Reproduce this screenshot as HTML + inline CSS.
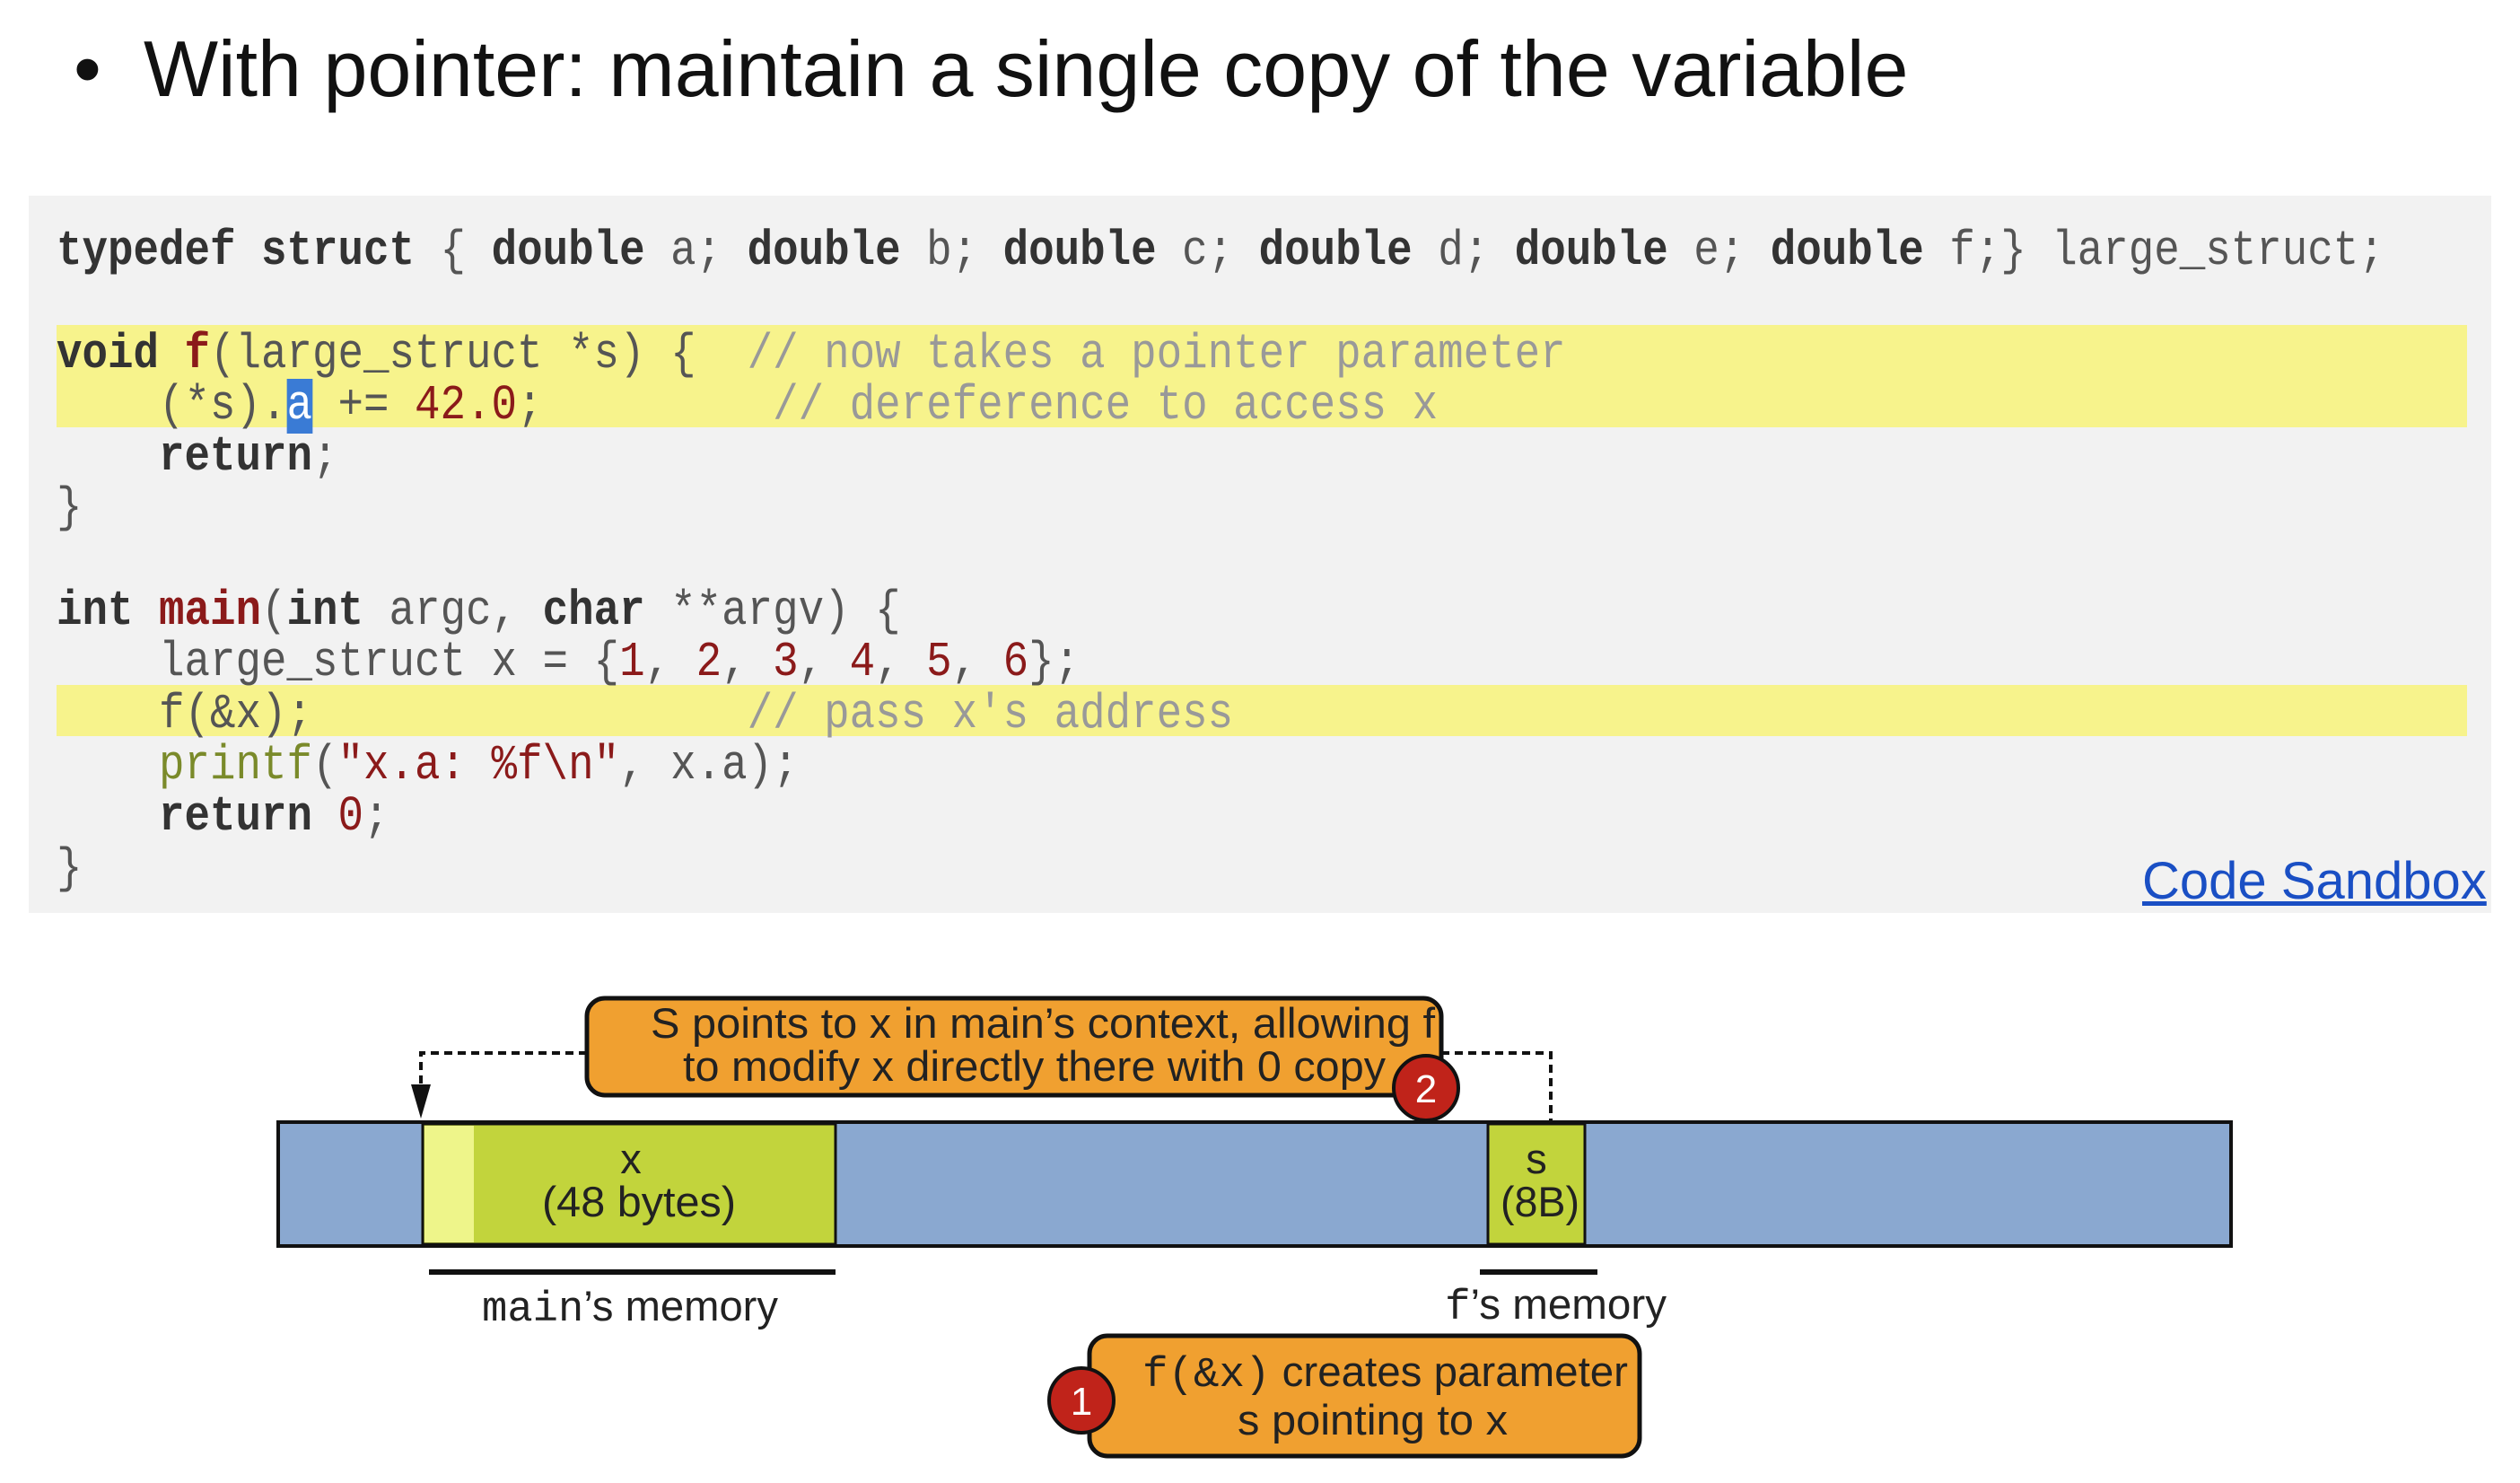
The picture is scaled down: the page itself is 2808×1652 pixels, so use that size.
<!DOCTYPE html>
<html><head><meta charset="utf-8">
<style>
html,body{margin:0;padding:0;background:#fff;}
body{width:2808px;height:1652px;position:relative;overflow:hidden;font-family:"Liberation Sans",sans-serif;}
.title{position:absolute;left:82px;top:26px;font-size:88px;color:#111;white-space:nowrap;}
.title span{display:inline-block;width:78px;}
.code{position:absolute;left:32px;top:218px;width:2744px;height:799px;background:#f2f2f2;}
.hl{position:absolute;left:63px;width:2686px;background:#f7f38c;}
pre{position:absolute;left:63px;top:252px;margin:0;font-family:"Liberation Mono",monospace;font-size:54.6px;line-height:57.3px;color:#555;transform:scaleX(0.87);transform-origin:0 0;}
b{color:#333;}
.r{color:#8b1a1a;}
.g{color:#7a8a2a;}
.c{color:#999;}
.sel{background:#3a7bd5;color:#fff;}
.link{position:absolute;left:2387px;top:948px;font-size:58px;color:#1a4fc4;text-decoration:underline;white-space:nowrap;}
</style></head><body>
<div class="title"><span>•</span>With pointer: maintain a single copy of the variable</div>
<div class="code"></div>
<div class="hl" style="top:362px;height:114px"></div>
<div class="hl" style="top:763px;height:57px"></div>
<pre><b>typedef struct</b> { <b>double</b> a; <b>double</b> b; <b>double</b> c; <b>double</b> d; <b>double</b> e; <b>double</b> f;} large_struct;

<b>void</b> <b class="r">f</b>(large_struct *s) {  <span class="c">// now takes a pointer parameter</span>
    (*s).<span class="sel">a</span> += <span class="r">42.0</span>;         <span class="c">// dereference to access x</span>
    <b>return</b>;
}

<b>int</b> <b class="r">main</b>(<b>int</b> argc, <b>char</b> **argv) {
    large_struct x = {<span class="r">1</span>, <span class="r">2</span>, <span class="r">3</span>, <span class="r">4</span>, <span class="r">5</span>, <span class="r">6</span>};
    f(&amp;x);                 <span class="c">// pass x's address</span>
    <span class="g">printf</span>(<span class="r">"x.a: %f\n"</span>, x.a);
    <b>return</b> <span class="r">0</span>;
}</pre>
<div class="link">Code Sandbox</div>

<svg width="2808" height="1652" style="position:absolute;left:0;top:0" xmlns="http://www.w3.org/2000/svg">
<g font-family="Liberation Sans, sans-serif" fill="#222" font-size="47">
<rect x="310" y="1250" width="2176" height="138" fill="#8aa8d0" stroke="#111" stroke-width="4"/>
<rect x="471" y="1252" width="460" height="134" fill="#c2d43c" stroke="#111" stroke-width="3"/>
<rect x="473" y="1254" width="55" height="130" fill="#eef58a"/>
<rect x="1658" y="1252" width="108" height="134" fill="#c2d43c" stroke="#111" stroke-width="3"/>
<text x="703" y="1307" text-anchor="middle">x</text>
<text x="604" y="1355" textLength="216" lengthAdjust="spacingAndGlyphs">(48 bytes)</text>
<text x="1712" y="1307" text-anchor="middle">s</text>
<text x="1672" y="1355" textLength="88" lengthAdjust="spacingAndGlyphs">(8B)</text>
<rect x="478" y="1414" width="453" height="6" fill="#111"/>
<rect x="1649" y="1414" width="131" height="6" fill="#111"/>
<text x="537" y="1471" textLength="330" lengthAdjust="spacingAndGlyphs"><tspan font-family="Liberation Mono, monospace">main</tspan>’s memory</text>
<text x="1610" y="1469" textLength="247" lengthAdjust="spacingAndGlyphs"><tspan font-family="Liberation Mono, monospace">f</tspan>’s memory</text>
<path d="M654 1173 H469 V1215" fill="none" stroke="#111" stroke-width="4" stroke-dasharray="9 6"/>
<polygon points="458,1208 480,1208 469,1246" fill="#111"/>
<path d="M1606 1173 H1728 V1250" fill="none" stroke="#111" stroke-width="4" stroke-dasharray="9 6"/>
<rect x="654" y="1112" width="952" height="108" rx="20" fill="#f0a030" stroke="#111" stroke-width="5"/>
<text x="725" y="1156" textLength="874" lengthAdjust="spacingAndGlyphs">S points to x in main’s context, allowing f</text>
<text x="761" y="1204" textLength="783" lengthAdjust="spacingAndGlyphs">to modify x directly there with 0 copy</text>
<circle cx="1589" cy="1212" r="36" fill="#c0231a" stroke="#111" stroke-width="4"/>
<text x="1589" y="1228" font-size="44" fill="#fff" text-anchor="middle">2</text>
<rect x="1214" y="1488" width="613" height="134" rx="20" fill="#f0a030" stroke="#111" stroke-width="5"/>
<text x="1273" y="1544" textLength="541" lengthAdjust="spacingAndGlyphs"><tspan font-family="Liberation Mono, monospace">f(&amp;x)</tspan> creates parameter</text>
<text x="1379" y="1598" textLength="301" lengthAdjust="spacingAndGlyphs">s pointing to x</text>
<circle cx="1205" cy="1560" r="36" fill="#c0231a" stroke="#111" stroke-width="4"/>
<text x="1205" y="1576" font-size="44" fill="#fff" text-anchor="middle">1</text>
</g>
</svg>
</body></html>
